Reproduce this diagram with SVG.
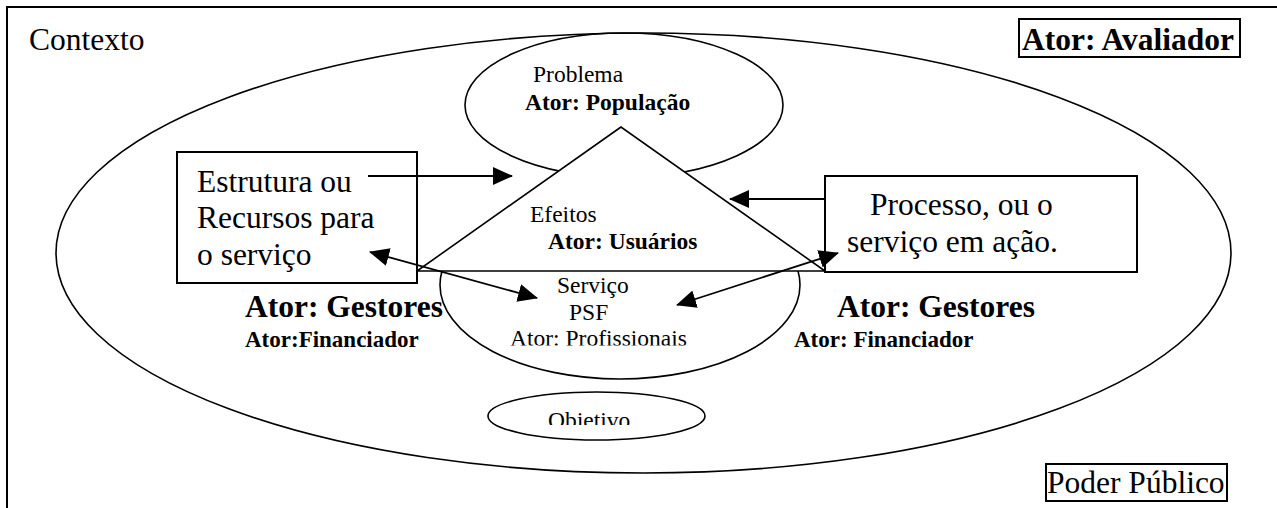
<svg xmlns="http://www.w3.org/2000/svg" width="1277" height="508" viewBox="0 0 1277 508">
<defs>
<style>
.ln{fill:none;stroke:#000;stroke-width:1.6}
.wf{fill:#fff;stroke:#000;stroke-width:1.6}
.bx{fill:#fff;stroke:#000;stroke-width:2}
.con{fill:none;stroke:#000;stroke-width:1.8}
text{font-family:"Liberation Serif","Times New Roman",serif;fill:#000}
.big{font-size:31.5px}
.sm{font-size:23.5px}
.b{font-weight:bold}
</style>
<marker id="ah" viewBox="0 0 20 18" refX="19" refY="9" markerWidth="20" markerHeight="18" markerUnits="userSpaceOnUse" orient="auto-start-reverse">
<path d="M0,0 L20,9 L0,18 z" fill="#000"/>
</marker>
<clipPath id="belowBase"><rect x="0" y="271" width="1277" height="237"/></clipPath>
<clipPath id="clipSvc"><rect x="0" y="0" width="1277" height="345.5"/></clipPath>
<clipPath id="clipObj"><rect x="0" y="0" width="1277" height="425"/></clipPath>
</defs>
<rect x="0" y="0" width="1277" height="508" fill="#fff"/>

<g id="frame">
<path d="M7,508 V7 H1277" fill="none" stroke="#000" stroke-width="2"/>
<text class="big" x="29" y="50">Contexto</text>
</g>

<g id="contexto-ellipse">
<ellipse class="ln" cx="643.5" cy="253" rx="587.5" ry="220"/>
</g>

<g id="problema">
<ellipse class="ln" cx="624" cy="105" rx="159" ry="72"/>
<text class="sm" x="533" y="82">Problema</text>
<text class="sm b" x="525" y="110">Ator: População</text>
</g>

<g id="servico">
<ellipse class="ln" cx="620" cy="285" rx="180" ry="94" clip-path="url(#belowBase)"/>
<g clip-path="url(#clipSvc)">
<text class="sm" x="557" y="293">Serviço</text>
<text class="sm" x="569" y="320">PSF</text>
<text class="sm" x="510" y="346">Ator: Profissionais</text>
</g>
</g>

<g id="efeitos">
<polygon class="wf" points="621,127 417,271 825,271"/>
<text class="sm" x="530" y="222">Efeitos</text>
<text class="sm b" x="548" y="249">Ator: Usuários</text>
</g>

<g id="objetivo">
<ellipse class="ln" cx="596.5" cy="416" rx="108.5" ry="24"/>
<text class="sm" x="548" y="427.5" clip-path="url(#clipObj)">Objetivo</text>
</g>

<g id="estrutura">
<rect class="bx" x="177" y="152" width="240" height="131"/>
<text class="big" x="197" y="192">Estrutura ou</text>
<text class="big" x="197" y="228">Recursos para</text>
<text class="big" x="197" y="265">o serviço</text>
</g>

<g id="processo">
<rect class="bx" x="825" y="176" width="312" height="96"/>
<text class="big" x="870" y="215">Processo, ou o</text>
<text class="big" x="847" y="252">serviço em ação.</text>
</g>

<g id="gestores-esq">
<text class="big b" x="245" y="317">Ator: Gestores</text>
<text class="sm b" x="245" y="347" style="font-size:23px">Ator:Financiador</text>
</g>

<g id="gestores-dir">
<text class="big b" x="837" y="317">Ator: Gestores</text>
<text class="sm b" x="794" y="347" style="font-size:23px">Ator: Financiador</text>
</g>

<g id="avaliador">
<rect class="bx" x="1019" y="19" width="221" height="38"/>
<text class="big b" x="1022" y="50">Ator: Avaliador</text>
</g>

<g id="poder-publico">
<rect class="bx" x="1046" y="464" width="181" height="37"/>
<text class="big" x="1047" y="493">Poder Público</text>
</g>

<g id="connectors">
<line class="con" x1="368" y1="176" x2="512" y2="176" marker-end="url(#ah)"/>
<line class="con" x1="825" y1="199" x2="730" y2="199" marker-end="url(#ah)"/>
<line class="con" x1="370" y1="252" x2="537" y2="298" marker-start="url(#ah)" marker-end="url(#ah)"/>
<line class="con" x1="677" y1="305" x2="838" y2="253" marker-start="url(#ah)" marker-end="url(#ah)"/>
</g>
</svg>
